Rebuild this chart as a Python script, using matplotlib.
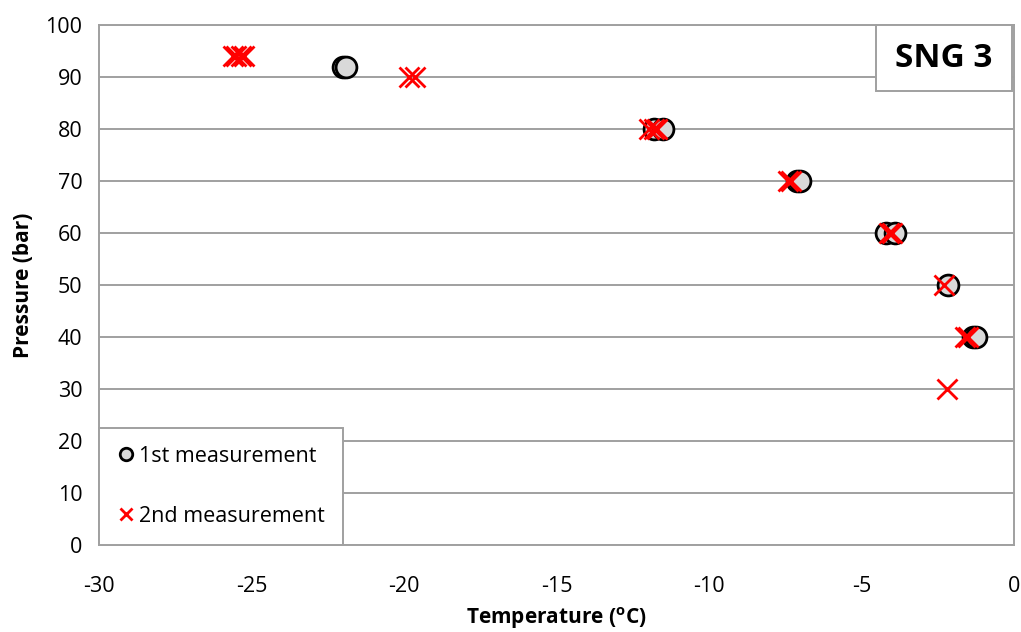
import numpy as np
import matplotlib.pyplot as plt
from matplotlib.patches import Rectangle

plt.rcParams['font.family'] = ['Open Sans', 'DejaVu Sans']
plt.rcParams['axes.unicode_minus'] = False

# 1st measurement (circles)
temp_1st = [-22.0, -21.9, -11.8, -11.5, -7.1, -7.0, -4.2, -3.9, -2.15, -1.35, -1.25]
pres_1st = [92, 92, 80, 80, 70, 70, 60, 60, 50, 40, 40]

# 2nd measurement (crosses)
temp_2nd = [-25.6, -25.5, -25.35, -25.25, -19.85, -19.65, -11.95, -11.8, -11.7,
            -7.4, -7.3, -4.1, -4.0, -2.3, -1.6, -1.5, -2.2]
pres_2nd = [94, 94, 94, 94, 90, 90, 80, 80, 80, 70, 70, 60, 60, 50, 40, 40, 30]

x_ticks = [-30, -25, -20, -15, -10, -5, 0]
y_ticks = np.arange(0, 101, 10)

fig = plt.figure(figsize=(10.21, 6.32), dpi=100)
ax = fig.add_axes([0.097, 0.1377, 0.896, 0.8227])

grid_col = '#a0a0a0'
ax.set_axisbelow(True)
ax.grid(True, axis='y', color=grid_col, lw=1.4)

ax.plot(temp_1st, pres_1st, 'o', ms=15, mfc='#d9d9d9', mec='black', mew=2,
        label='1st measurement', zorder=3)
ax.plot(temp_2nd, pres_2nd, 'x', ms=15, color='red', mew=2,
        label='2nd measurement', zorder=4)

ax.set_xlim(-30, 0)
ax.set_ylim(0, 100)
ax.set_xticks(x_ticks)
ax.set_yticks(y_ticks)
ax.tick_params(length=0, labelsize=15.5, pad=12)
ax.tick_params(axis='x', pad=22)
for s in ax.spines.values():
    s.set_color(grid_col)
    s.set_linewidth(1.4)

ax.set_xlabel('Temperature ($^\\mathregular{o}$C)', fontsize=15, fontweight='bold', labelpad=6)
ax.set_ylabel('Pressure (bar)', fontsize=15, fontweight='bold', labelpad=8)

leg = ax.legend(loc='lower left', bbox_to_anchor=(0, 0), borderaxespad=0,
                fontsize=15.5, labelspacing=1.8, handlelength=0.8, handletextpad=0.2,
                borderpad=0.85, fancybox=False, framealpha=1, markerscale=0.6)
leg.get_frame().set_edgecolor(grid_col)
leg.get_frame().set_linewidth(1.4)
leg.set_zorder(5)

# title box in the top right corner
ax.add_patch(Rectangle((0.849, 0.873), 0.149, 0.127, transform=ax.transAxes,
                       fc='white', ec=grid_col, lw=1.4, zorder=6, clip_on=False))
ax.text(0.9235, 0.9365, 'SNG 3', transform=ax.transAxes, ha='center', va='center',
        fontsize=24, fontweight='bold', zorder=7)

fig.savefig('out.png', dpi=100)
